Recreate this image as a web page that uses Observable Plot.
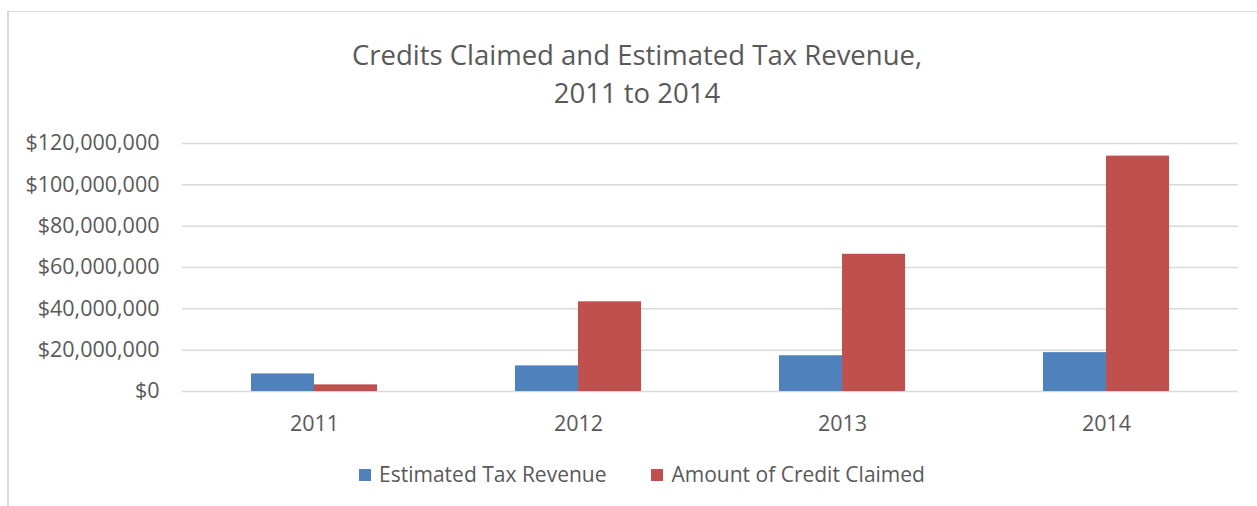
<!DOCTYPE html>
<html><head><meta charset="utf-8">
<script src="https://cdn.jsdelivr.net/npm/d3@7"></script>
<script src="https://cdn.jsdelivr.net/npm/@observablehq/plot@0.6"></script>
<style>
body{margin:0;background:#fff;width:1257px;height:506px;overflow:hidden;position:relative;font-family:"Open Sans",sans-serif;color:#595959}
#frame{position:absolute;left:7px;top:11px;width:1270px;height:510px;border-left:2px solid #d9d9d9;border-top:1.5px solid #d9d9d9}
#title{position:absolute;left:0;width:1274px;top:36px;text-align:center;font-size:27.5px;line-height:38px;color:#595959}
#chart{position:absolute;left:0;top:110px}
#legend{position:absolute;left:0;width:1284px;top:461px;display:flex;justify-content:center;font-size:21px;line-height:26px;color:#595959}
#legend .item{display:flex;align-items:center}
#legend .item + .item{margin-left:45px}
#legend .sw{width:12px;height:12px;margin-right:8px;display:inline-block;position:relative;top:1px}
</style>
</head><body>
<div id="frame"></div>
<div id="title">Credits Claimed and Estimated Tax Revenue,<br>2011 to 2014</div>
<div id="chart"></div>
<div id="legend"></div>
<script>
const years = ["2011", "2012", "2013", "2014"];
const seriesNames = ["Estimated Tax Revenue", "Amount of Credit Claimed"];
const taxRevenue = [8.5e6, 12.4e6, 17.3e6, 18.8e6];
const creditClaimed = [3.2e6, 43.4e6, 66.4e6, 113.9e6];
const yTicks = [0, 20e6, 40e6, 60e6, 80e6, 100e6, 120e6];
const colors = ["#4F81BD", "#C0504D"];

const data = [];
years.forEach((y, i) => {
  data.push({year: y, series: seriesNames[0], value: taxRevenue[i]});
  data.push({year: y, series: seriesNames[1], value: creditClaimed[i]});
});

const fmt = d3.format(",");
const chart = Plot.plot({
  width: 1257,
  height: 331,
  marginLeft: 181,
  marginRight: 18,
  marginTop: 33,
  marginBottom: 50,
  style: {fontFamily: "'Open Sans', sans-serif", fontSize: "21.5px", color: "#595959", background: "transparent", overflow: "visible"},
  fx: {domain: years, padding: 0, label: null, axis: "bottom", tickSize: 0, tickPadding: 24},
  x: {domain: seriesNames, axis: null, paddingInner: 0, paddingOuter: 1.09},
  y: {domain: [0, 120e6], ticks: yTicks, tickFormat: d => "$" + fmt(d), tickSize: 0, tickPadding: 23, label: null},
  color: {domain: seriesNames, range: colors},
  marks: [
    Plot.gridY(yTicks, {stroke: "#d9d9d9", strokeOpacity: 1, strokeWidth: 1.5}),
    Plot.barY(data, {fx: "year", x: "series", y: "value", fill: "series"})
  ]
});
document.getElementById("chart").appendChild(chart);

const legend = document.getElementById("legend");
seriesNames.forEach((s, i) => {
  const item = document.createElement("div");
  item.className = "item";
  const sw = document.createElement("span");
  sw.className = "sw";
  sw.style.background = colors[i];
  const t = document.createElement("span");
  t.textContent = s;
  item.appendChild(sw);
  item.appendChild(t);
  legend.appendChild(item);
});
</script>
</body></html>
